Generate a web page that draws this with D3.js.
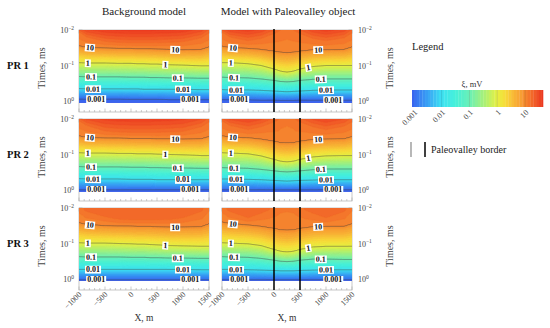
<!DOCTYPE html>
<html><head><meta charset="utf-8">
<script src="https://cdn.jsdelivr.net/npm/d3@7"></script>
<style>body{margin:0;background:#fff}svg{display:block}</style>
</head><body>
<svg id="chart" width="550" height="328"></svg>
<script>
// ---------------- DATA ----------------
const xKnots = [-1000, -850, -500, -250, 0, 125, 250, 375, 500, 750, 1000, 1350, 1500];
const levelValues = [1.2, 1, 0, -1, -2, -3];           // log10 of ξ (mV) for the contour rows below
const labelLevels = [1, 0, -1, -2, -3];
const labelTexts = ["10", "1", "0.1", "0.01", "0.001"];
const labelLeftX = [-790, -830, -770, -730, -670];
const labelRightX = [850, 660, 900, 1000, 1140];
const bottomValue = -3.15;                               // log10 ξ just below 1 ms
const xTickValues = [-1000, -500, 0, 500, 1000, 1500];
const xTickLabels = ["\u22121000", "\u2212500", "0", "500", "1000", "1500"];
const yTickExps = [-2, -1, 0];
const rowNames = ["PR 1", "PR 2", "PR 3"];
const colTitles = ["Background model", "Model with Paleovalley object"];
const paleoBorders = [0, 500];
const cbTickValues = [0.001, 0.01, 0.1, 1, 10];
const cbTickLabels = ["0.001", "0.01", "0.1", "1", "10"];

// log10 ξ at t = 0.01 ms, per x knot
const pr1BgTop = [1.32, 1.48, 1.58, 1.61, 1.62, 1.62, 1.62, 1.62, 1.61, 1.60, 1.57, 1.45, 1.28];
// log10 time (ms) of each contour level, per x knot
const pr1BgLevels = [
  [-1.95, -1.80, -1.68, -1.65, -1.64, -1.64, -1.64, -1.64, -1.64, -1.65, -1.67, -1.78, -1.92],
  [-1.55, -1.51, -1.49, -1.48, -1.48, -1.47, -1.47, -1.47, -1.46, -1.45, -1.44, -1.45, -1.52],
  [-1.08, -1.07, -1.07, -1.06, -1.06, -1.05, -1.05, -1.04, -1.04, -1.02, -1.01, -0.99, -0.99],
  [-0.69, -0.68, -0.68, -0.68, -0.67, -0.67, -0.67, -0.66, -0.66, -0.65, -0.65, -0.64, -0.64],
  [-0.35, -0.34, -0.34, -0.34, -0.34, -0.34, -0.33, -0.33, -0.33, -0.33, -0.33, -0.32, -0.32],
  [-0.06, -0.06, -0.06, -0.06, -0.05, -0.05, -0.05, -0.05, -0.05, -0.04, -0.04, -0.04, -0.04]
];
const pr2BgTop = [1.28, 1.43, 1.53, 1.56, 1.57, 1.57, 1.57, 1.57, 1.56, 1.55, 1.52, 1.41, 1.25];
const pr2BgLevels = [
  [-1.95, -1.82, -1.66, -1.63, -1.62, -1.62, -1.62, -1.62, -1.62, -1.63, -1.65, -1.78, -1.92],
  [-1.52, -1.48, -1.46, -1.46, -1.45, -1.45, -1.45, -1.45, -1.44, -1.44, -1.43, -1.44, -1.50],
  [-1.05, -1.04, -1.04, -1.03, -1.03, -1.02, -1.02, -1.02, -1.01, -1.00, -0.99, -0.97, -0.97],
  [-0.66, -0.65, -0.65, -0.65, -0.64, -0.64, -0.64, -0.63, -0.63, -0.62, -0.62, -0.61, -0.61],
  [-0.32, -0.31, -0.31, -0.31, -0.30, -0.30, -0.30, -0.30, -0.29, -0.29, -0.29, -0.29, -0.29],
  [-0.01, -0.01, -0.01, -0.01, -0.01, -0.01, -0.01, -0.01, -0.01, -0.01, -0.01, -0.01, -0.01]
];
const pr3BgTop = [1.15, 1.23, 1.26, 1.27, 1.27, 1.27, 1.27, 1.27, 1.27, 1.27, 1.26, 1.23, 1.12];
const pr3BgLevels = [
  [-2.00, -1.90, -1.75, -1.68, -1.66, -1.66, -1.66, -1.66, -1.66, -1.67, -1.72, -1.90, -2.00],
  [-1.58, -1.53, -1.50, -1.49, -1.49, -1.48, -1.48, -1.48, -1.47, -1.46, -1.46, -1.47, -1.55],
  [-1.02, -1.01, -1.01, -1.00, -0.99, -0.98, -0.98, -0.97, -0.96, -0.94, -0.93, -0.92, -0.92],
  [-0.63, -0.62, -0.62, -0.62, -0.61, -0.61, -0.61, -0.60, -0.60, -0.59, -0.59, -0.58, -0.58],
  [-0.27, -0.27, -0.27, -0.27, -0.27, -0.27, -0.27, -0.27, -0.27, -0.27, -0.27, -0.26, -0.26],
  [0.02, 0.02, 0.02, 0.02, 0.02, 0.02, 0.02, 0.02, 0.02, 0.02, 0.02, 0.02, 0.02]
];
const pr1PvTop = [1.32, 1.48, 1.55, 1.47, 1.30, 1.20, 1.17, 1.20, 1.30, 1.47, 1.55, 1.45, 1.28];
const pr1PvLevels = [
  [-1.95, -1.80, -1.70, -1.76, -1.90, -2.00, -2.00, -2.00, -1.90, -1.76, -1.70, -1.78, -1.92],
  [-1.54, -1.50, -1.48, -1.45, -1.40, -1.37, -1.36, -1.37, -1.40, -1.44, -1.44, -1.45, -1.52],
  [-1.08, -1.08, -1.05, -1.00, -0.90, -0.84, -0.81, -0.84, -0.90, -0.97, -1.00, -1.00, -1.00],
  [-0.67, -0.66, -0.65, -0.62, -0.58, -0.55, -0.54, -0.55, -0.58, -0.61, -0.62, -0.62, -0.62],
  [-0.32, -0.31, -0.31, -0.30, -0.28, -0.27, -0.26, -0.27, -0.28, -0.30, -0.31, -0.31, -0.31],
  [-0.04, -0.04, -0.04, -0.03, -0.03, -0.02, -0.02, -0.02, -0.03, -0.03, -0.03, -0.03, -0.03]
];
const pr2PvTop = [1.28, 1.43, 1.50, 1.42, 1.27, 1.17, 1.14, 1.17, 1.27, 1.42, 1.50, 1.40, 1.25];
const pr2PvLevels = [
  [-1.95, -1.82, -1.70, -1.78, -1.92, -2.00, -2.00, -2.00, -1.92, -1.78, -1.70, -1.80, -1.92],
  [-1.52, -1.49, -1.47, -1.43, -1.37, -1.33, -1.32, -1.33, -1.37, -1.42, -1.43, -1.44, -1.50],
  [-1.05, -1.04, -1.02, -0.96, -0.86, -0.81, -0.79, -0.81, -0.86, -0.93, -0.96, -0.97, -0.97],
  [-0.63, -0.62, -0.61, -0.58, -0.54, -0.52, -0.51, -0.52, -0.54, -0.57, -0.59, -0.59, -0.59],
  [-0.31, -0.31, -0.30, -0.29, -0.27, -0.26, -0.25, -0.26, -0.27, -0.28, -0.29, -0.29, -0.29],
  [-0.01, -0.01, -0.01, -0.01, -0.01, -0.01, -0.01, -0.01, -0.01, -0.01, -0.01, -0.01, -0.01]
];
const pr3PvTop = [1.15, 1.23, 1.26, 1.24, 1.18, 1.13, 1.12, 1.13, 1.18, 1.24, 1.26, 1.22, 1.12];
const pr3PvLevels = [
  [-2.00, -1.90, -1.72, -1.85, -2.00, -2.00, -2.00, -2.00, -2.00, -1.85, -1.72, -1.90, -2.00],
  [-1.60, -1.56, -1.52, -1.48, -1.42, -1.38, -1.37, -1.38, -1.42, -1.47, -1.48, -1.48, -1.55],
  [-1.02, -1.01, -0.99, -0.94, -0.83, -0.78, -0.76, -0.78, -0.83, -0.90, -0.92, -0.92, -0.92],
  [-0.63, -0.62, -0.61, -0.58, -0.53, -0.50, -0.49, -0.50, -0.53, -0.56, -0.56, -0.55, -0.55],
  [-0.27, -0.27, -0.26, -0.25, -0.24, -0.23, -0.23, -0.23, -0.24, -0.25, -0.26, -0.26, -0.26],
  [0.02, 0.02, 0.02, 0.02, 0.02, 0.02, 0.02, 0.02, 0.02, 0.02, 0.02, 0.02, 0.02]
];

// colour map (log10 ξ → colour)
const cmapStops = [-3.2, -3.0, -2.5, -2.0, -1.5, -1.0, -0.5, 0, 0.3, 0.6, 0.9, 1.0, 1.2, 1.4, 1.6, 1.7];
const cmapColors = ["#3550e6", "#3a6cf0", "#38a2f4", "#3ee2f2", "#46f0da", "#6af0b6", "#a6f07a",
                    "#e6f042", "#f8da3a", "#f8b636", "#f79a32", "#f68a2f", "#f3702a", "#f05426",
                    "#ec3e21", "#ea3420"];

// ---------------- DRAW ----------------
const FONT = "'Liberation Serif','Times New Roman',serif";
const svg = d3.select("#chart").style("font-family", FONT);
const colLeft = [79, 222], plotW = 130;
const rowTop = [30, 119, 208], plotH = 71, frameH = 82;
const fieldBottomLog = 0.045;     // coloured field reaches slightly below 10^0
const color = d3.scaleLinear().domain(cmapStops).range(cmapColors).clamp(true);

const panels = [
  {r:0, c:0, top:pr1BgTop, levels:pr1BgLevels}, {r:0, c:1, top:pr1PvTop, levels:pr1PvLevels},
  {r:1, c:0, top:pr2BgTop, levels:pr2BgLevels}, {r:1, c:1, top:pr2PvTop, levels:pr2PvLevels},
  {r:2, c:0, top:pr3BgTop, levels:pr3BgLevels}, {r:2, c:1, top:pr3PvTop, levels:pr3PvLevels}
];

const defs = svg.append("defs");
const fillThresholds = d3.range(-3.4, 1.75, 0.1);
const lineThresholds = [-3, -2, -1, 0, 1];
const pad = 3;

function columnProfile(p, xd) {
  const at = arr => d3.scaleLinear().domain(xKnots).range(arr).clamp(true)(xd);
  const topV = at(p.top);
  const ts = [-2.0], vs = [topV];
  let prevT = -2.0, prevV = topV;
  levelValues.forEach((lv, i) => {
    const t = at(p.levels[i]);
    if (t > prevT + 0.003 && lv < prevV) { ts.push(t); vs.push(lv); prevT = t; prevV = lv; }
  });
  ts.push(Math.max(prevT + 0.05, 0.1)); vs.push(bottomValue);
  return d3.scaleLinear().domain(ts).range(vs);
}
function levelTime(p, li, xd) {
  return d3.scaleLinear().domain(xKnots).range(p.levels[li]).clamp(true)(xd);
}

panels.forEach((p, k) => {
  const x0 = colLeft[p.c], y0 = rowTop[p.r];
  const xs = d3.scaleLinear().domain([-1000, 1500]).range([x0, x0 + plotW]);
  const ys = d3.scaleLog().domain([0.01, 1]).range([y0, y0 + plotH]);
  const fieldH = ys(Math.pow(10, fieldBottomLog)) - y0;
  const g = svg.append("g");

  // frame + ticks
  g.append("rect").attr("x", x0).attr("y", y0).attr("width", plotW).attr("height", frameH)
    .attr("fill", "#fff").attr("stroke", "#b8b8b8").attr("stroke-width", 0.8);
  d3.range(-1000, 1501, 100).forEach(v => {
    const L = v % 500 === 0 ? 3.5 : 2;
    g.append("line").attr("x1", xs(v)).attr("x2", xs(v)).attr("y1", y0).attr("y2", y0 + L)
      .attr("stroke", "#aaa").attr("stroke-width", 0.6);
    g.append("line").attr("x1", xs(v)).attr("x2", xs(v)).attr("y1", y0 + frameH).attr("y2", y0 + frameH - L)
      .attr("stroke", "#aaa").attr("stroke-width", 0.6);
  });
  const edgeX = p.c === 0 ? x0 : x0 + plotW, dir = p.c === 0 ? 1 : -1;
  [0.01,0.02,0.03,0.04,0.05,0.06,0.07,0.08,0.09,0.1,0.2,0.3,0.4,0.5,0.6,0.7,0.8,0.9,1].forEach(v => {
    const major = [0.01, 0.1, 1].includes(v);
    g.append("line").attr("x1", edgeX).attr("x2", edgeX + dir * (major ? 3.5 : 2))
      .attr("y1", ys(v)).attr("y2", ys(v)).attr("stroke", "#aaa").attr("stroke-width", 0.6);
  });

  // field grid
  const nx = plotW + 2 * pad, ny = Math.ceil(fieldH) + 2 * pad;
  const profiles = d3.range(nx).map(i => columnProfile(p, xs.invert(x0 - pad + i + 0.5)));
  const values = new Array(nx * ny);
  for (let j = 0; j < ny; j++) {
    const t = Math.log10(ys.invert(y0 - pad + j + 0.5));
    for (let i = 0; i < nx; i++) values[j * nx + i] = profiles[i](t);
  }
  const clipId = "clip" + k;
  defs.append("clipPath").attr("id", clipId).append("rect")
    .attr("x", x0).attr("y", y0).attr("width", plotW).attr("height", fieldH);
  const path = d3.geoPath(d3.geoIdentity().translate([x0 - pad, y0 - pad]));
  const cg = g.append("g").attr("clip-path", `url(#${clipId})`);
  const fills = d3.contours().size([nx, ny]).thresholds(fillThresholds)(values);
  cg.selectAll("path.f").data(fills).join("path").attr("class", "f")
    .attr("d", path).attr("fill", d => color(d.value + 0.05)).attr("stroke", d => color(d.value + 0.05))
    .attr("stroke-width", 0.3);
  const lines = d3.contours().size([nx, ny]).thresholds(lineThresholds)(values);
  cg.selectAll("path.l").data(lines).join("path").attr("class", "l")
    .attr("d", path).attr("fill", "none").attr("stroke", "#3c3c3c").attr("stroke-opacity", 0.75)
    .attr("stroke-width", 0.6);

  // contour labels
  const lg = g.append("g");
  [labelLeftX, labelRightX].forEach(xArr => {
    labelLevels.forEach((lv, n) => {
      const li = levelValues.indexOf(lv);
      const xd = xArr[n];
      const py = ys(Math.pow(10, levelTime(p, li, xd)));
      const pyA = ys(Math.pow(10, levelTime(p, li, xd - 150)));
      const pyB = ys(Math.pow(10, levelTime(p, li, xd + 150)));
      const ang = Math.atan2(pyB - pyA, xs(xd + 150) - xs(xd - 150)) * 180 / Math.PI;
      const tg = lg.append("g").attr("transform", `translate(${xs(xd)},${py}) rotate(${ang})`);
      const txt = tg.append("text").attr("text-anchor", "middle").attr("dy", "0.34em")
        .attr("font-size", 8).attr("font-weight", "bold").attr("fill", "#111").text(labelTexts[n]);
      const bb = txt.node().getBBox();
      tg.insert("rect", "text").attr("x", bb.x - 1).attr("y", bb.y + 0.6).attr("width", bb.width + 2)
        .attr("height", bb.height - 1.2).attr("fill", "#fff");
    });
  });

  // paleovalley borders
  if (p.c === 1) {
    paleoBorders.forEach(v => {
      g.append("line").attr("x1", xs(v)).attr("x2", xs(v)).attr("y1", y0 - 1).attr("y2", y0 + frameH)
        .attr("stroke", "#000").attr("stroke-width", 1.5);
    });
  }

  // y tick labels
  yTickExps.forEach(e => {
    const t = g.append("text").attr("y", ys(Math.pow(10, e)) + 3).attr("font-size", 8).attr("fill", "#444")
      .attr("x", p.c === 0 ? x0 - 5 : x0 + plotW + 6).attr("text-anchor", p.c === 0 ? "end" : "start");
    t.append("tspan").text("10");
    t.append("tspan").attr("dy", -3.5).attr("font-size", 5.5).text(e === 0 ? "0" : "\u2212" + (-e));
  });
  // y axis title
  const tx = p.c === 0 ? 45 : 393;
  g.append("text").attr("transform", `translate(${tx},${y0 + 38}) rotate(-90)`).attr("text-anchor", "middle")
    .attr("font-size", 10).attr("fill", "#444").text("Times, ms");

  // x tick labels on last row
  if (p.r === 2) {
    xTickValues.forEach((v, n) => {
      g.append("text").attr("transform", `translate(${xs(v) + 3},${y0 + frameH + 5}) rotate(-45)`)
        .attr("text-anchor", "end").attr("font-size", 8).attr("fill", "#444").text(xTickLabels[n]);
    });
    g.append("text").attr("x", x0 + plotW / 2).attr("y", 321).attr("text-anchor", "middle")
      .attr("font-size", 9.5).attr("fill", "#333").text("X, m");
  }
});

// row names & column titles
rowNames.forEach((nm, r) => {
  svg.append("text").attr("x", 7).attr("y", rowTop[r] + 39).attr("font-size", 10.5).attr("font-weight", "bold")
    .attr("fill", "#111").text(nm);
});
colTitles.forEach((t, c) => {
  svg.append("text").attr("x", colLeft[c] + plotW / 2 + (c === 1 ? 1 : 0)).attr("y", 15).attr("text-anchor", "middle")
    .attr("font-size", 11).attr("fill", "#222").text(t);
});

// legend
svg.append("text").attr("x", 412).attr("y", 50).attr("font-size", 10.5).attr("fill", "#222").text("Legend");
svg.append("text").attr("x", 472).attr("y", 87).attr("text-anchor", "middle").attr("font-size", 8.5)
  .attr("fill", "#333").text("\u03be, mV");
const cb = d3.scaleLog().domain([Math.pow(10, -3.07), Math.pow(10, 1.65)]).range([412, 543]);
const cbSteps = d3.range(-3.1, 1.65, 0.1);
svg.append("g").selectAll("rect").data(cbSteps).join("rect")
  .attr("x", d => Math.max(412, cb(Math.pow(10, d))))
  .attr("width", d => Math.min(543, cb(Math.pow(10, d + 0.1))) - Math.max(412, cb(Math.pow(10, d))) + 0.3)
  .attr("y", 90).attr("height", 17).attr("fill", d => color(d + 0.05));
cbTickValues.forEach((v, n) => {
  if (n > 0) svg.append("line").attr("x1", cb(v)).attr("x2", cb(v)).attr("y1", 90).attr("y2", 107)
    .attr("stroke", "#000").attr("stroke-opacity", 0.15).attr("stroke-width", 0.8);
  svg.append("text").attr("transform", `translate(${cb(v) + 4},${113}) rotate(-45)`).attr("text-anchor", "end")
    .attr("font-size", 8).attr("fill", "#444").text(cbTickLabels[n]);
});
svg.append("line").attr("x1", 411).attr("x2", 411).attr("y1", 142).attr("y2", 157).attr("stroke", "#888").attr("stroke-width", 1.2);
svg.append("line").attr("x1", 425).attr("x2", 425).attr("y1", 142).attr("y2", 157).attr("stroke", "#000").attr("stroke-width", 1.5);
svg.append("text").attr("x", 431).attr("y", 153).attr("font-size", 10).attr("fill", "#222").text("Paleovalley border");
</script>
</body></html>
